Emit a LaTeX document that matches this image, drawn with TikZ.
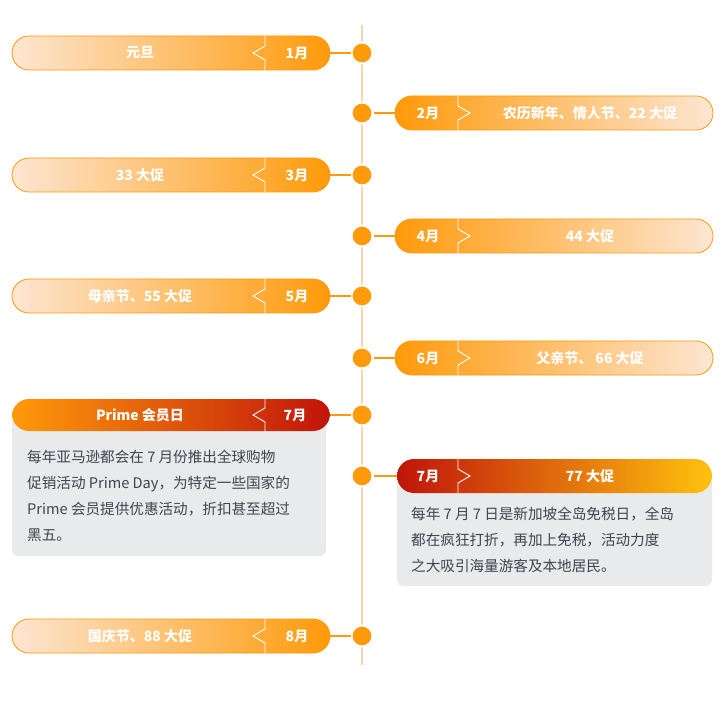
\documentclass[tikz,border=0pt]{standalone}
\usepackage{fontspec}
\setmainfont{Noto Sans CJK SC}
\usepackage{tikz}
\definecolor{orng}{HTML}{FF9A0A}
\definecolor{pale}{HTML}{FDE6D2}
\definecolor{dred}{HTML}{C0140A}
\definecolor{gold}{HTML}{FFC20E}
\definecolor{gbox}{HTML}{E9EAEB}
\definecolor{txt}{HTML}{3F4450}
\definecolor{tline}{HTML}{F9D5AE}
\tikzset{
  bar/.style={rounded corners=17pt,minimum width=318pt,minimum height=34pt,draw=orng,line width=0.8pt},
  lbar/.style={bar,left color=pale,right color=orng},
  rbar/.style={bar,left color=orng,right color=pale},
  dot/.style={circle,fill=orng,draw=white,line width=2pt,minimum size=21pt,inner sep=0pt},
  lab/.style={text=white,font=\bfseries\fontsize{14}{16}\selectfont},
  note/.style={text=txt,font=\fontsize{14.6}{26}\selectfont,align=left,anchor=north west,inner sep=0pt}
}
\newcommand{\lnotch}[2]{\draw[white,line width=0.9pt] (#1,#2-17) -- (#1,#2-7) -- (#1-12,#2) -- (#1,#2+7) -- (#1,#2+17);}
\newcommand{\rnotch}[2]{\draw[white,line width=0.9pt] (#1,#2-17) -- (#1,#2-7) -- (#1+12,#2) -- (#1,#2+7) -- (#1,#2+17);}
\begin{document}
\begin{tikzpicture}[x=1pt,y=-1pt]
\useasboundingbox[fill=white] (0,0) rectangle (723,703);
\draw[tline,line width=1.5pt] (362,25) -- (362,665);
% gray note boxes
\fill[gbox,rounded corners=6pt] (12,418) rectangle (326,556);
\fill[gbox,rounded corners=6pt] (397,478) rectangle (712,586);
% dots
\foreach \n/\y in {1/53,2/113,3/175,4/236,5/296,6/358,7/415,8/476,9/636}
  \node[dot] (d\n) at (362,\y) {};
% left bars
\foreach \n/\y/\t/\m in {1/53/元旦/1月,3/175/33 大促/3月,5/296/母亲节、55 大促/5月,9/636/国庆节、88 大促/8月}{
  \draw[orng,line width=1.2pt] (330,\y) -- (d\n);
  \node[lbar] (b\n) at (171,\y) {};
  \lnotch{265}{\y}
  \node[lab] (t\n) at (140,\y) {\t};
  \node[lab] (m\n) at (297,\y) {\m};
}
% right bars
\foreach \n/\y/\t/\m in {2/113/农历新年、情人节、22 大促/2月,4/236/44 大促/4月,6/358/父亲节、 66 大促/6月}{
  \draw[orng,line width=1.2pt] (395,\y) -- (d\n);
  \node[rbar] (b\n) at (554,\y) {};
  \rnotch{458}{\y}
  \node[lab] (t\n) at (590,\y) {\t};
  \node[lab] (m\n) at (428,\y) {\m};
}
% July, left
\draw[orng,line width=1.2pt] (330,415) -- (d7);
\node[bar,draw=none,left color=orng,right color=dred,minimum width=318pt,minimum height=32pt] (b7) at (171,415) {};
\lnotch{265}{415}
\node[lab] (t7) at (140,415) {Prime 会员日};
\node[lab] (m7) at (295,415) {7月};
\node[note] (n7) at (27,450) {每年亚马逊都会在 7 月份推出全球购物\\促销活动 Prime Day，为特定一些国家的\\Prime 会员提供优惠活动，折扣甚至超过\\黑五。};
% July, right
\draw[orng,line width=1.2pt] (397,476) -- (d8);
\node[bar,draw=none,left color=dred,right color=gold,minimum width=315pt,minimum height=34pt] (b8) at (554.5,476) {};
\rnotch{458}{476}
\node[lab] (t8) at (590,476) {77 大促};
\node[lab] (m8) at (428,476) {7月};
\node[note] (n8) at (411,507) {每年 7 月 7 日是新加坡全岛免税日，全岛\\都在疯狂打折，再加上免税，活动力度\\之大吸引海量游客及本地居民。};
\end{tikzpicture}
\end{document}
